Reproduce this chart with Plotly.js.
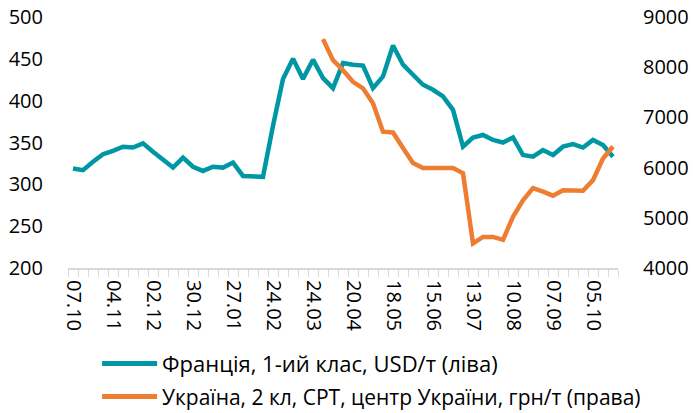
<!DOCTYPE html>
<html>
<head>
<meta charset="utf-8">
<script src="https://cdn.plot.ly/plotly-3.0.1.min.js"></script>
<style>html,body{margin:0;padding:0;background:#fff;}#chart{width:693px;height:413px;}</style>
</head>
<body>
<div id="chart"></div>
<script>
// Weekly dates (category axis)
const categories = [
  "07.10","14.10","21.10","28.10","04.11","11.11","18.11","25.11","02.12","09.12",
  "16.12","23.12","30.12","06.01","13.01","20.01","27.01","03.02","10.02","17.02",
  "24.02","03.03","10.03","17.03","24.03","31.03","07.04","14.04","20.04","27.04",
  "04.05","11.05","18.05","25.05","01.06","08.06","15.06","22.06","29.06","06.07",
  "13.07","20.07","27.07","03.08","10.08","17.08","24.08","31.08","07.09","14.09",
  "21.09","28.09","05.10","12.10","19.10"
];
// Tick labels shown on the axis
const tickLabels = ["07.10","04.11","02.12","30.12","27.01","24.02","24.03","20.04",
  "18.05","15.06","13.07","10.08","07.09","05.10"];

// France, class 1, USD/t (left axis)
const franceName = "Франція, 1-ий клас, USD/т (ліва)";
const franceValues = [
  319,317,327,336,340,345,344,349,339,330,
  320,332,321,316,321,320,326,310,310,309,
  370,426,450,426,449,427,415,445,443,442,
  415,429,466,443,431,419,413,405,389,345,
  356,359,353,350,356,335,333,341,335,345,
  348,344,353,347,333
];

// Ukraine, class 2, CPT, centre of Ukraine, UAH/t (right axis) — starts at 31.03
const ukraineName = "Україна, 2 кл, CPT, центр України, грн/т (права)";
const ukraineDates = [
  "31.03","07.04","14.04","20.04","27.04","04.05","11.05","18.05","25.05","01.06",
  "08.06","15.06","22.06","29.06","06.07","13.07","20.07","27.07","03.08","10.08",
  "17.08","24.08","31.08","07.09","14.09","21.09","28.09","05.10","12.10","19.10"
];
const ukraineValues = [
  8560,8140,7940,7710,7580,7280,6715,6700,6390,6090,
  5990,5990,5990,5990,5890,4490,4620,4620,4560,5020,
  5350,5590,5520,5440,5550,5540,5540,5750,6180,6420
];

const FONT = "Open Sans, Noto Sans, sans-serif";
const TEAL = "#0097A5", ORANGE = "#ED7D31";
const tickText = categories.map(c => tickLabels.includes(c) ? c : "");

const traces = [
  {
    type: "scatter", mode: "lines", name: franceName,
    x: categories, y: franceValues, yaxis: "y",
    line: {color: TEAL, width: 4.5}
  },
  {
    type: "scatter", mode: "lines", name: ukraineName,
    x: ukraineDates, y: ukraineValues, yaxis: "y2",
    line: {color: ORANGE, width: 4.5}
  }
];

// Legend drawn below the plot (line sample + text per series)
const legendRows = [
  {name: franceName, color: TEAL, y: -0.38, size: 22},
  {name: ukraineName, color: ORANGE, y: -0.512, size: 21}
];
const shapes = legendRows.map(r => ({
  type: "line", xref: "paper", yref: "paper",
  x0: 0.062, x1: 0.162, y0: r.y, y1: r.y,
  line: {color: r.color, width: 5}
}));
const annotations = legendRows.map(r => ({
  text: r.name, xref: "paper", yref: "paper", x: 0.168, y: r.y,
  xanchor: "left", yanchor: "middle", showarrow: false,
  font: {family: FONT, size: r.size, color: "#000"}
}));

const layout = {
  width: 693, height: 413,
  margin: {l: 68, r: 75, t: 17, b: 145},
  paper_bgcolor: "#fff", plot_bgcolor: "#fff",
  font: {family: FONT, size: 20, color: "#000"},
  showlegend: false,
  shapes: shapes,
  annotations: annotations,
  xaxis: {
    type: "category", categoryorder: "array", categoryarray: categories,
    range: [-0.5, categories.length - 0.5], automargin: false,
    tickmode: "array", tickvals: categories, ticktext: tickText,
    tickson: "boundaries", ticks: "outside", ticklen: 7, tickwidth: 1, tickcolor: "#D9D9D9",
    ticklabelstandoff: 6,
    showline: true, linecolor: "#D9D9D9", linewidth: 2,
    showgrid: false, zeroline: false, tickangle: 90,
    tickfont: {family: FONT, size: 20, color: "#000"}
  },
  yaxis: {
    range: [200, 500], dtick: 50, tick0: 200, automargin: false,
    showgrid: false, zeroline: false, showline: false,
    ticks: "outside", ticklen: 20, tickcolor: "rgba(0,0,0,0)",
    tickfont: {family: FONT, size: 20, color: "#000"}
  },
  yaxis2: {
    range: [4000, 9000], dtick: 1000, tick0: 4000, automargin: false,
    overlaying: "y", side: "right",
    showgrid: false, zeroline: false, showline: false,
    ticks: "outside", ticklen: 20, tickcolor: "rgba(0,0,0,0)",
    tickfont: {family: FONT, size: 20, color: "#000"}
  }
};

Plotly.newPlot("chart", traces, layout, {staticPlot: true, displayModeBar: false});
</script>
</body>
</html>
